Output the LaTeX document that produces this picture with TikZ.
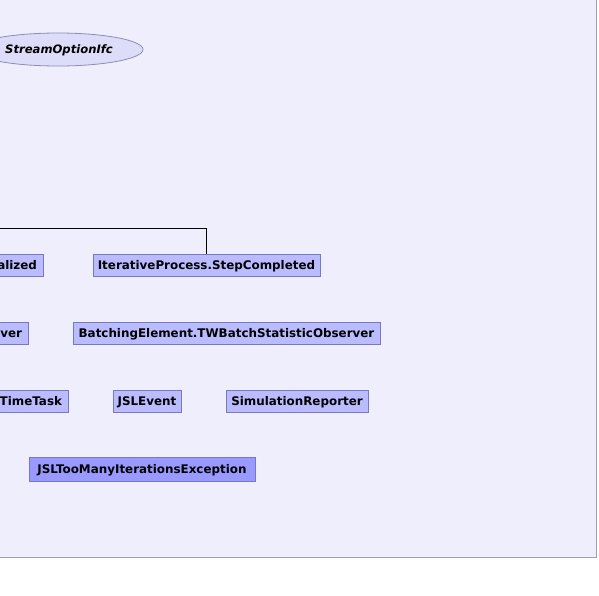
\documentclass[tikz,border=0pt]{standalone}
\usepackage{fontspec}
\setmainfont{DejaVu Sans}
\usetikzlibrary{shapes.geometric}
\definecolor{panelfill}{RGB}{238,238,252}
\definecolor{panelline}{RGB}{160,160,176}
\definecolor{boxfill}{RGB}{187,187,255}
\definecolor{boxline}{RGB}{120,120,190}
\definecolor{boxdark}{RGB}{153,153,255}
\definecolor{ellfill}{RGB}{221,221,250}
\definecolor{ellline}{RGB}{140,140,180}
\tikzset{
  cls/.style={draw=boxline, line width=0.8pt, fill=boxfill, font=\fontsize{11.9}{13}\selectfont\bfseries,
    inner xsep=3pt, inner ysep=0pt, minimum height=22pt, text height=9.5pt, text depth=1.5pt},
  exc/.style={cls, fill=boxdark, minimum height=24pt},
  iface/.style={ellipse, draw=ellline, line width=0.8pt, fill=ellfill, inner sep=0pt},
  ifacetext/.style={font=\fontsize{11.6}{13}\selectfont\bfseries\itshape, anchor=west, inner sep=0pt},
  conn/.style={draw=black, line width=0.8pt}
}
\begin{document}
\begin{tikzpicture}[x=1pt,y=-1pt]
\useasboundingbox (0,0) rectangle (599,595);
\fill[white] (0,0) rectangle (599,595);
\fill[panelfill] (0,0) rectangle (596,557);
\begin{scope}
\clip (0,0) rectangle (596,557);
\node[iface, minimum width=170pt, minimum height=33pt] (stream) at (58,49.5) {};
\node[ifacetext] (streamtxt) at (5,50) {StreamOptionIfc};
\node[cls, minimum width=63pt, text width=51pt, inner xsep=6pt, align=right] (finalized) at (11.5,265) {alized};
\node[cls, minimum width=227pt] (step) at (206.5,265) {IterativeProcess.StepCompleted};
\node[cls, minimum width=48pt, text width=36pt, inner xsep=6pt, align=right] (observer) at (4,333) {ver};
\node[cls, minimum width=307pt] (batching) at (226.5,333) {BatchingElement.TWBatchStatisticObserver};
\node[cls, minimum width=88pt, text width=76pt, inner xsep=6pt, align=right] (timetask) at (24,401) {TimeTask};
\node[cls, minimum width=68pt] (jslevent) at (147,401) {JSLEvent};
\node[cls, minimum width=142pt] (reporter) at (297,401) {SimulationReporter};
\node[exc, minimum width=226pt] (toomany) at (142,469) {JSLTooManyIterationsException};
\coordinate (edgeL) at (-5,228);
\draw[conn] (edgeL) -| (step.north);
\end{scope}
\draw[panelline, line width=1pt] (596,0) -- (596,557) -- (0,557);
\end{tikzpicture}
\end{document}
